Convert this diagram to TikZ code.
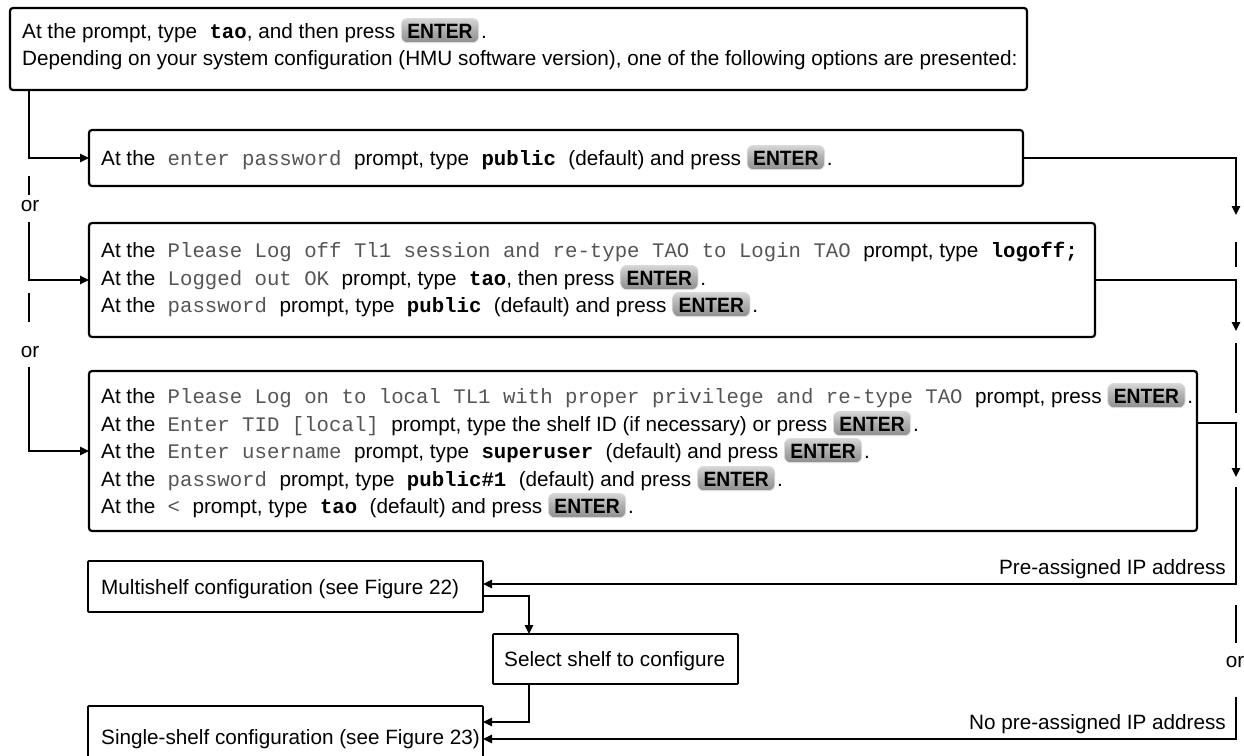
\documentclass[tikz,border=0pt]{standalone}
\usepackage{fontspec}
\setmainfont{Liberation Sans}
\setmonofont{Liberation Mono}
\newfontfamily\keyfont{Liberation Sans}
\usetikzlibrary{arrows.meta}
\definecolor{promptgray}{RGB}{85,85,85}
\newcommand{\fs}{\fontsize{20.7}{24}\selectfont}
\newcommand{\prm}[1]{{\color{promptgray}\ttfamily#1}}
\newcommand{\cmd}[1]{{\ttfamily\bfseries #1}}
\newcommand{\enterkey}{\tikz[baseline=(btn.base)]\node[enterbtn](btn){\scalebox{0.93}[1]{\keyfont\bfseries ENTER}};}
\tikzset{
  enterbtn/.style={rounded corners=6pt, top color=black!16, bottom color=black!44, middle color=black!32, draw=black!14, line width=0.8pt, inner xsep=6pt, inner ysep=4.6pt, text height=14.9pt, text depth=0pt, font=\keyfont\fs\bfseries, text=black, anchor=base, minimum height=0pt, minimum width=0pt},
  bigbox/.style={draw=black, line width=2.2pt, rounded corners=3pt, anchor=north west, inner sep=0pt, outer sep=0pt},
  smallbox/.style={draw=black, line width=1.8pt, rounded corners=1pt, anchor=north west, inner sep=0pt, outer sep=0pt},
  txt/.style={anchor=base west, inner sep=0pt, font=\normalfont\fs},
  ortxt/.style={anchor=base, inner sep=0pt, font=\normalfont\fs},
  lbl/.style={anchor=base east, inner sep=0pt, font=\normalfont\fs},
  conn/.style={line width=1.4pt, -{Triangle[length=9pt,width=8.5pt]}},
  stub/.style={line width=1.4pt},
}
\begin{document}
\begin{tikzpicture}[x=1pt,y=-1pt]
\useasboundingbox (0,0) rectangle (1244,755);
\fill[white] (0,0) rectangle (1244,755);

% boxes
\node[bigbox, minimum width=1017pt, minimum height=82pt] (A) at (10,8) {};
\node[bigbox, minimum width=934pt, minimum height=56pt] (B) at (89,130) {};
\node[bigbox, minimum width=1006pt, minimum height=114pt] (C) at (89,223) {};
\node[bigbox, minimum width=1108pt, minimum height=160pt] (D) at (89,371) {};
\node[smallbox, minimum width=395pt, minimum height=51pt] (M) at (88,561) {};
\node[smallbox, minimum width=245pt, minimum height=50pt] (S) at (493,634) {};
\node[smallbox, minimum width=395pt, minimum height=62pt] (G) at (88,706) {};

% texts
\node[txt] (a1) at (22,38) {At the prompt, type\cmd{ tao}, and then press \enterkey\kern2pt.};
\node[txt] (a2) at (22,65) {Depending on your system configuration (HMU software version), one of the following options are presented:};
\node[txt] (b1) at (101,165) {At the\prm{ enter password }prompt, type\cmd{ public }(default) and press \enterkey\kern2pt.};
\node[txt] (c1) at (101,257) {At the\prm{ Please Log off Tl1 session and re-type TAO to Login TAO }prompt, type\cmd{ logoff;}};
\node[txt] (c2) at (101,285) {At the\prm{ Logged out OK }prompt, type\cmd{ tao}, then press \enterkey\kern2pt.};
\node[txt] (c3) at (101,312) {At the\prm{ password }prompt, type\cmd{ public }(default) and press \enterkey\kern2pt.};
\node[txt] (d1) at (101,403) {At the\prm{ Please Log on to local TL1 with proper privilege and re-type TAO }prompt, press \enterkey\kern2pt.};
\node[txt] (d2) at (101,431) {At the\prm{ Enter TID [local] }prompt, type the shelf ID (if necessary) or press \enterkey\kern2pt.};
\node[txt] (d3) at (101,458) {At the\prm{ Enter username }prompt, type\cmd{ superuser }(default) and press \enterkey\kern2pt.};
\node[txt] (d4) at (101,486) {At the\prm{ password }prompt, type\cmd{ public\#1 }(default) and press \enterkey\kern2pt.};
\node[txt] (d5) at (101,513) {At the\prm{ < }prompt, type\cmd{ tao }(default) and press \enterkey\kern2pt.};
\node[txt] (mt) at (101,594) {Multishelf configuration (see Figure 22)};
\node[txt] (st) at (504,666) {Select shelf to configure};
\node[txt] (gt) at (101,744) {Single-shelf configuration (see Figure 23)};
\node[lbl] (lp) at (1226,574) {Pre-assigned IP address};
\node[lbl] (ln) at (1226,729) {No pre-assigned IP address};
\node[ortxt] (or1) at (30,211) {or};
\node[ortxt] (or2) at (30,357) {or};
\node[ortxt] (or3) at (1235,667) {or};

% coordinates
\coordinate (xl) at (29,0);
\coordinate (ls1a) at (29,176); \coordinate (ls1b) at (29,195);
\coordinate (ll1) at (29,222);
\coordinate (ls2a) at (29,293); \coordinate (ls2b) at (29,322);
\coordinate (ll2) at (29,367);
\coordinate (rt1) at (1236,215);
\coordinate (rs1a) at (1236,242); \coordinate (rs1b) at (1236,267);
\coordinate (rt2) at (1236,331);
\coordinate (rs2a) at (1236,343); \coordinate (rs2b) at (1236,413);
\coordinate (rD) at (1236,423);
\coordinate (rt3) at (1236,477);
\coordinate (r4) at (1236,487);
\coordinate (p1) at (0,584);
\coordinate (rs3a) at (1236,605); \coordinate (rs3b) at (1236,643);
\coordinate (r5) at (1236,697);
\coordinate (g2) at (0,739);
\coordinate (m1) at (529,596);
\coordinate (g1) at (0,722);

% left connectors
\draw[conn] (A.south -| xl) |- (B.west);
\draw[stub] (ls1a) -- (ls1b);
\draw[conn] (ll1) |- (C.west);
\draw[stub] (ls2a) -- (ls2b);
\draw[conn] (ll2) |- (D.west);

% right connectors
\draw[conn] (B.east) -| (rt1);
\draw[stub] (rs1a) -- (rs1b);
\draw[conn] (C.east) -| (rt2);
\draw[stub] (rs2a) -- (rs2b);
\draw[conn] (D.east |- rD) -| (rt3);
\draw[conn] (r4) |- (M.east |- p1);
\draw[stub] (rs3a) -- (rs3b);
\draw[conn] (r5) |- (G.east |- g2);

% bottom connectors
\draw[conn] (M.east |- m1) -| (S.north -| m1);
\draw[conn] (S.south -| m1) |- (G.east |- g1);
\end{tikzpicture}
\end{document}
